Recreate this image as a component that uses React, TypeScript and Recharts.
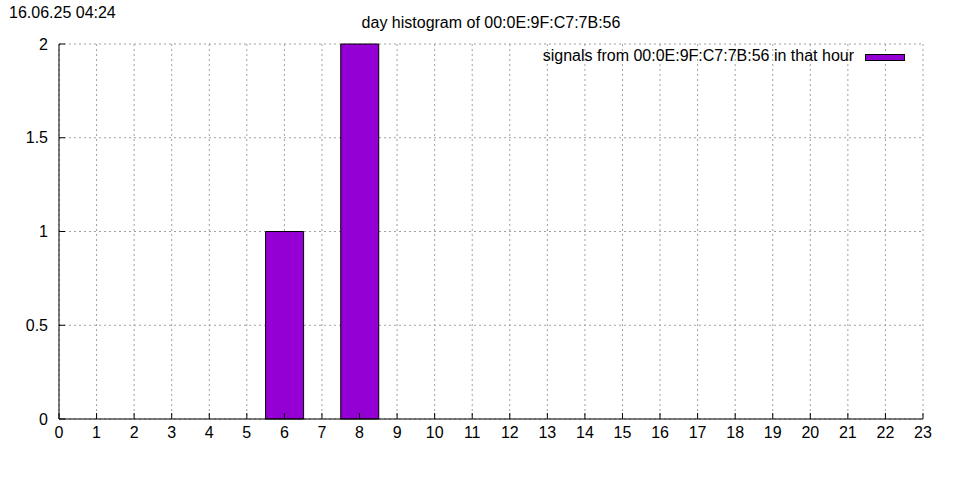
import { BarChart, Bar, XAxis, YAxis, CartesianGrid, Legend } from 'recharts';

const stamp = '16.06.25 04:24';
const title = 'day histogram of 00:0E:9F:C7:7B:56';
const seriesName = 'signals from 00:0E:9F:C7:7B:56 in that hour';

const hours = [0, 1, 2, 3, 4, 5, 6, 7, 8, 9, 10, 11, 12, 13, 14, 15, 16, 17, 18, 19, 20, 21, 22];
const signals = [0, 0, 0, 0, 0, 0, 1, 0, 2, 0, 0, 0, 0, 0, 0, 0, 0, 0, 0, 0, 0, 0, 0];
const xTicks = [0, 1, 2, 3, 4, 5, 6, 7, 8, 9, 10, 11, 12, 13, 14, 15, 16, 17, 18, 19, 20, 21, 22, 23];
const yTicks = [0, 0.5, 1, 1.5, 2];

const data = hours.map((h, i) => ({ hour: h, signals: signals[i] }));

const font = '"Liberation Sans", Arial, sans-serif';
const violet = '#9400d3';

function renderLegend() {
  return (
    <div style={{ position: 'absolute', top: 48, right: 55, display: 'flex', alignItems: 'flex-start', fontSize: 16, lineHeight: '16px', fontFamily: font }}>
      <span>{seriesName}</span>
      <span style={{ display: 'inline-block', width: 38, height: 5, marginTop: 6, background: violet, border: '1px solid #000', marginLeft: 11 }} />
    </div>
  );
}

function App() {
  return (
    <div style={{ position: 'absolute', left: 0, top: 0, width: 960, height: 480, background: '#fff', fontFamily: font }}>
      <div style={{ position: 'absolute', left: 9, top: 5, fontSize: 16, lineHeight: '16px' }}>{stamp}</div>
      <div style={{ position: 'absolute', left: 59, top: 15, width: 864, textAlign: 'center', fontSize: 16, lineHeight: '16px' }}>{title}</div>
      <BarChart
        width={960}
        height={480}
        data={data}
        margin={{ top: 44, right: 37, left: 0, bottom: 31 }}
        barCategoryGap={0}
        barGap={0}
      >
        <CartesianGrid stroke="#a0a0a0" strokeDasharray="2 3" />
        <XAxis
          dataKey="hour"
          type="number"
          domain={[0, 23]}
          ticks={xTicks}
          interval={0}
          height={30}
          tickSize={-6}
          tickMargin={14}
          stroke="#000"
          tick={{ fill: '#000', fontSize: 16, fontFamily: font }}
        />
        <XAxis xAxisId="top" orientation="top" type="number" domain={[0, 23]} ticks={xTicks} height={0} tickSize={-6} tick={false} stroke="#000" />
        <YAxis
          domain={[0, 2]}
          ticks={yTicks}
          width={59}
          tickSize={-6}
          tickMargin={17}
          stroke="#000"
          tick={{ fill: '#000', fontSize: 16, fontFamily: font }}
        />
        <YAxis yAxisId="right" orientation="right" domain={[0, 2]} ticks={yTicks} width={0} tickSize={-6} tick={false} stroke="#000" />
        <Legend verticalAlign="middle" align="center" layout="horizontal" content={renderLegend} wrapperStyle={{ position: 'absolute', left: 0, top: 0, width: 960, height: 0 }} />
        <Bar dataKey="signals" name={seriesName} fill={violet} stroke="#000" strokeWidth={1} isAnimationActive={false} />
      </BarChart>
    </div>
  );
}

export default App;
